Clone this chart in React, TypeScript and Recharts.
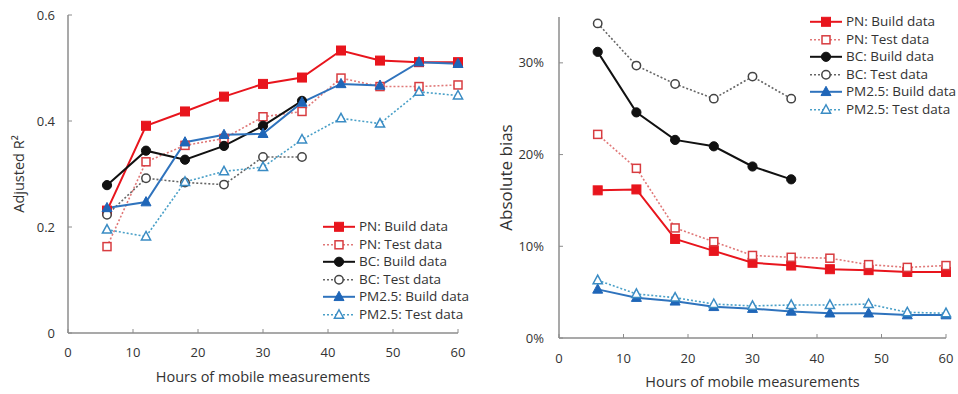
import React from 'react';
import { LineChart, Line, XAxis, YAxis, Legend } from 'recharts';

const hours = [6, 12, 18, 24, 30, 36, 42, 48, 54, 60];
const xTicks = [0, 10, 20, 30, 40, 50, 60];

// Left panel: Adjusted R²
const r2PnBuild = [0.231, 0.391, 0.418, 0.446, 0.47, 0.482, 0.533, 0.514, 0.511, 0.511];
const r2PnTest = [0.163, 0.323, 0.354, 0.367, 0.408, 0.418, 0.481, 0.465, 0.465, 0.468];
const r2BcBuild = [0.279, 0.344, 0.327, 0.353, 0.391, 0.438];
const r2BcTest = [0.223, 0.292, 0.284, 0.28, 0.332, 0.332];
const r2PmBuild = [0.236, 0.247, 0.36, 0.374, 0.376, 0.435, 0.47, 0.467, 0.511, 0.508];
const r2PmTest = [0.195, 0.182, 0.285, 0.305, 0.313, 0.365, 0.405, 0.395, 0.455, 0.448];
const r2Ticks = [0, 0.2, 0.4, 0.6];

// Right panel: Absolute bias (%)
const biasPnBuild = [16.1, 16.2, 10.8, 9.5, 8.2, 7.9, 7.5, 7.4, 7.2, 7.2];
const biasPnTest = [22.2, 18.5, 12.0, 10.5, 9.0, 8.8, 8.7, 8.0, 7.7, 7.9];
const biasBcBuild = [31.2, 24.6, 21.6, 20.9, 18.7, 17.3];
const biasBcTest = [34.3, 29.7, 27.7, 26.1, 28.5, 26.1];
const biasPmBuild = [5.3, 4.4, 4.0, 3.4, 3.2, 2.9, 2.7, 2.7, 2.5, 2.5];
const biasPmTest = [6.3, 4.8, 4.4, 3.7, 3.5, 3.6, 3.6, 3.7, 2.8, 2.7];
const biasTicks = [0, 10, 20, 30];

const seriesLabels = [
  'PN: Build data',
  'PN: Test data',
  'BC: Build data',
  'BC: Test data',
  'PM2.5: Build data',
  'PM2.5: Test data',
];

const FONT = '"Open Sans", sans-serif';
const TEXT = '#333333';
const AXIS = '#8c8c8c';

type Shape = 'square' | 'circle' | 'triangle';
interface Style {
  key: string;
  color: string;
  markerColor: string;
  shape: Shape;
  open: boolean;
  dashed: boolean;
  width: number;
}

const styles: Style[] = [
  { key: 's0', color: '#e8151d', markerColor: '#e8151d', shape: 'square', open: false, dashed: false, width: 2 },
  { key: 's1', color: '#e07878', markerColor: '#d83c40', shape: 'square', open: true, dashed: true, width: 1.6 },
  { key: 's2', color: '#111111', markerColor: '#111111', shape: 'circle', open: false, dashed: false, width: 2 },
  { key: 's3', color: '#666666', markerColor: '#444444', shape: 'circle', open: true, dashed: true, width: 1.6 },
  { key: 's4', color: '#2f73bd', markerColor: '#1f66b8', shape: 'triangle', open: false, dashed: false, width: 2 },
  { key: 's5', color: '#4aa0c8', markerColor: '#3a8cc4', shape: 'triangle', open: true, dashed: true, width: 1.6 },
];

function buildTable(series: number[][]) {
  return hours.map((h, i) => {
    const row: Record<string, number | null> = { h };
    series.forEach((s, j) => {
      row['s' + j] = i < s.length ? s[i] : null;
    });
    return row;
  });
}

const r2Data = buildTable([r2PnBuild, r2PnTest, r2BcBuild, r2BcTest, r2PmBuild, r2PmTest]);
const biasData = buildTable([biasPnBuild, biasPnTest, biasBcBuild, biasBcTest, biasPmBuild, biasPmTest]);

function Marker({ cx, cy, st }: { cx: number; cy: number; st: Style }) {
  const fill = st.open ? '#ffffff' : st.markerColor;
  const sw = st.open ? 1.5 : 1;
  if (st.shape === 'square') {
    const s = st.open ? 8 : 9;
    return <rect x={cx - s / 2} y={cy - s / 2} width={s} height={s} fill={fill} stroke={st.markerColor} strokeWidth={sw} />;
  }
  if (st.shape === 'circle') {
    const r = st.open ? 4.2 : 4.6;
    return <circle cx={cx} cy={cy} r={r} fill={fill} stroke={st.markerColor} strokeWidth={sw} />;
  }
  const a = st.open ? 4.6 : 5;
  const pts = `${cx},${cy - a * 1.1} ${cx + a},${cy + a * 0.75} ${cx - a},${cy + a * 0.75}`;
  return <polygon points={pts} fill={fill} stroke={st.markerColor} strokeWidth={sw} strokeLinejoin="miter" />;
}

const makeDot = (st: Style) => (props: any) => {
  const { cx, cy, index, value } = props;
  if (cx == null || cy == null || value == null || Number.isNaN(cy)) {
    return <g key={`e-${st.key}-${index}`} />;
  }
  return (
    <g key={`d-${st.key}-${index}`}>
      <Marker cx={cx} cy={cy} st={st} />
    </g>
  );
};

const LegendBox = () => (
  <div style={{ fontFamily: FONT, fontSize: 13.5, color: TEXT, lineHeight: '17.6px' }}>
    {styles.map((st, i) => (
      <div key={st.key} style={{ display: 'flex', alignItems: 'center', height: 17.6, whiteSpace: 'nowrap' }}>
        <svg width={35} height={17.6} style={{ display: 'block' }}>
          <line
            x1={1}
            x2={33}
            y1={8.8}
            y2={8.8}
            stroke={st.color}
            strokeWidth={st.width}
            strokeDasharray={st.dashed ? '2 2' : undefined}
          />
          <Marker cx={17} cy={8.8} st={st} />
        </svg>
        <span style={{ marginLeft: 2 }}>{seriesLabels[i]}</span>
      </div>
    ))}
  </div>
);

const XTitle = (props: any) => {
  const vb = props.viewBox || {};
  return (
    <text
      x={vb.x + vb.width / 2}
      y={vb.y + 49}
      textAnchor="middle"
      fontFamily={FONT}
      fontSize={14.5}
      fill={TEXT}
    >
      Hours of mobile measurements
    </text>
  );
};

const makeYTitle = (text: string, dx: number, size: number) => (props: any) => {
  const vb = props.viewBox || {};
  const x = vb.x + dx;
  const y = vb.y + vb.height / 2;
  return (
    <text
      x={x}
      y={y}
      transform={`rotate(-90 ${x} ${y})`}
      textAnchor="middle"
      dominantBaseline="central"
      fontFamily={FONT}
      fontSize={size}
      fill={TEXT}
    >
      {text}
    </text>
  );
};

const tickStyle = { fontFamily: FONT, fontSize: 13, fill: TEXT };

function renderLines() {
  return styles.map((st) => (
    <Line
      key={st.key}
      type="linear"
      dataKey={st.key}
      stroke={st.color}
      strokeWidth={st.width}
      strokeDasharray={st.dashed ? '2 2' : undefined}
      dot={makeDot(st)}
      activeDot={false}
      isAnimationActive={false}
      connectNulls={false}
    />
  ));
}

export default function App() {
  return (
    <div style={{ position: 'absolute', left: 0, top: 0, width: 958, height: 394, background: '#ffffff' }}>
      <div style={{ position: 'absolute', left: 0, top: 0 }}>
        <LineChart width={480} height={394} data={r2Data} margin={{ top: 15, right: 22, bottom: 31, left: 0 }}>
          <XAxis
            dataKey="h"
            type="number"
            domain={[0, 60]}
            ticks={xTicks}
            height={30}
            tickSize={-4}
            tickMargin={19}
            tick={tickStyle}
            axisLine={{ stroke: AXIS, strokeWidth: 1.5 }}
            tickLine={{ stroke: AXIS, strokeWidth: 1 }}
            label={<XTitle />}
          />
          <YAxis
            type="number"
            domain={[0, 0.6]}
            ticks={r2Ticks}
            width={68}
            tickSize={-4}
            tickMargin={17}
            tick={tickStyle}
            tickFormatter={(v: number) => (v === 0 ? '0' : v.toFixed(1))}
            axisLine={{ stroke: AXIS, strokeWidth: 1.5 }}
            tickLine={{ stroke: AXIS, strokeWidth: 1 }}
            label={{ content: makeYTitle('Adjusted R²', 18, 14.5) } as any}
          />
          {renderLines()}
          <Legend
            layout="vertical"
            align="center"
            verticalAlign="middle"
            content={() => <LegendBox />}
            wrapperStyle={{ left: 322, top: 218, width: 160, height: 110 }}
          />
        </LineChart>
      </div>
      <div style={{ position: 'absolute', left: 480, top: 0 }}>
        <LineChart width={478} height={394} data={biasData} margin={{ top: 17, right: 12, bottom: 26, left: 0 }}>
          <XAxis
            dataKey="h"
            type="number"
            domain={[0, 60]}
            ticks={xTicks}
            height={30}
            tickSize={-4}
            tickMargin={20}
            tick={tickStyle}
            axisLine={{ stroke: AXIS, strokeWidth: 1.5 }}
            tickLine={{ stroke: AXIS, strokeWidth: 1 }}
            label={<XTitle />}
          />
          <YAxis
            type="number"
            domain={[0, 35]}
            ticks={biasTicks}
            width={79}
            tickSize={-4}
            tickMargin={19}
            tick={tickStyle}
            tickFormatter={(v: number) => `${v}%`}
            axisLine={{ stroke: AXIS, strokeWidth: 1.5 }}
            tickLine={{ stroke: AXIS, strokeWidth: 1 }}
            label={{ content: makeYTitle('Absolute bias', 25, 17) } as any}
          />
          {renderLines()}
          <Legend
            layout="vertical"
            align="center"
            verticalAlign="middle"
            content={() => <LegendBox />}
            wrapperStyle={{ left: 329, top: 13, width: 150, height: 110 }}
          />
        </LineChart>
      </div>
    </div>
  );
}
